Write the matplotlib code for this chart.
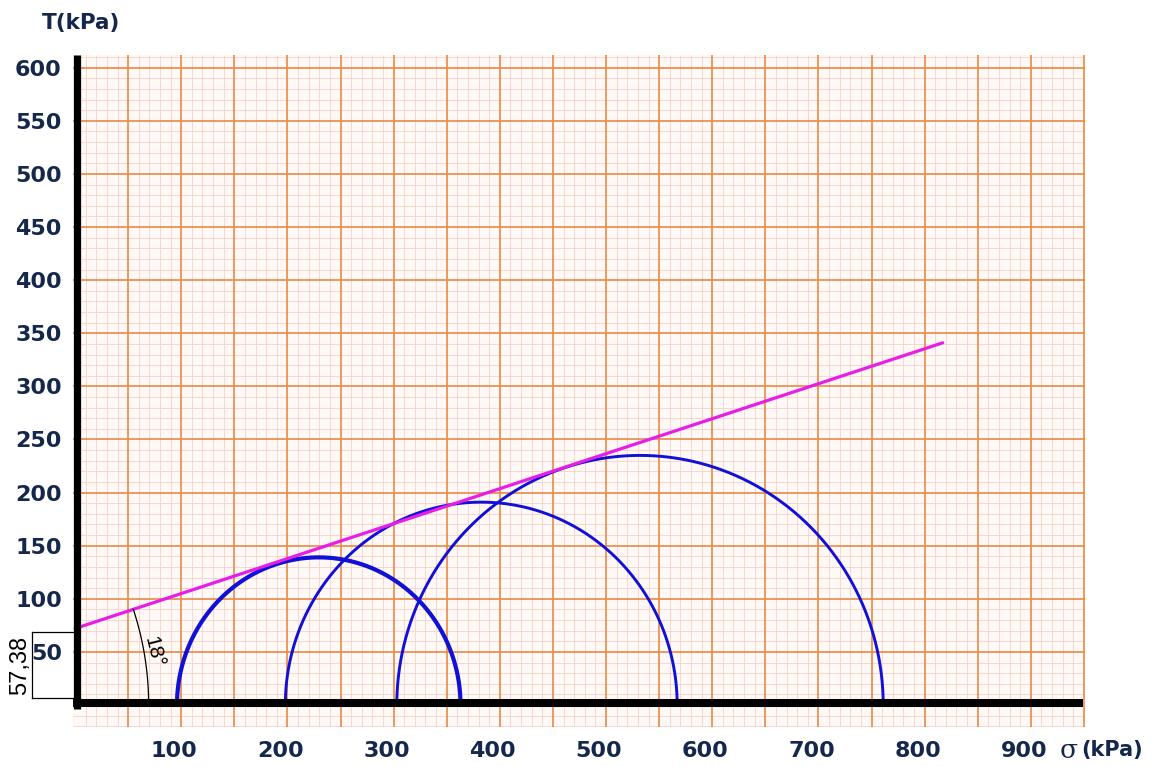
import numpy as np
import matplotlib
matplotlib.use("Agg")
import matplotlib.pyplot as plt
from matplotlib.transforms import ScaledTranslation

# ---- data ----
sigma3 = [96, 198, 303]          # kPa, left ends of Mohr circles
sigma1 = [363, 567, 761]         # kPa, right ends of Mohr circles
tau_top = [139, 191, 235]        # kPa, drawn apex heights of the circles
circle_lw = [3.0, 2.1, 2.1]
envelope_x = [0, 817]            # kPa
envelope_y = [72, 341]           # kPa
cohesion_label = "57,38"
angle_label = "18°"
x_ticks = [100, 200, 300, 400, 500, 600, 700, 800, 900]
y_ticks = [50, 100, 150, 200, 250, 300, 350, 400, 450, 500, 550, 600]

NAVY = "#15274b"
ORANGE = "#e98a45"
PINK = "#f6d2c6"
BLUE = "#1010d8"
MAGENTA = "#e61ee6"

W, H = 1159, 767
fig = plt.figure(figsize=(W / 100, H / 100), dpi=100)
fig.patch.set_facecolor("white")

xmin, xmax = -2, 951
ymin, ymax = -21, 612
left_px, right_px = 72.9, 1085.0
top_px, bot_px = 55.0, 727.3
ax = fig.add_axes([left_px / W, (H - bot_px) / H, (right_px - left_px) / W, (bot_px - top_px) / H])
ax.set_xlim(xmin, xmax)
ax.set_ylim(ymin, ymax)
ax.set_facecolor("#fef8f6")
for s in ax.spines.values():
    s.set_visible(False)

# graph paper grid
minor_x = [v for v in np.arange(0, 951, 10) if v % 50 != 0]
minor_y = [v for v in np.arange(-20, 612, 10) if v % 50 != 0]
ax.vlines(minor_x, ymin, ymax, color=PINK, lw=0.6, zorder=1)
ax.hlines(minor_y, xmin, xmax, color=PINK, lw=0.6, zorder=1)
ax.vlines(np.arange(50, 951, 50), ymin, ymax, color=ORANGE, lw=1.2, zorder=2)
ax.hlines(np.arange(50, 612, 50), xmin, xmax, color=ORANGE, lw=1.2, zorder=2)

# Mohr circles
t = np.linspace(0, np.pi, 400)
for s3, s1, top, lw in zip(sigma3, sigma1, tau_top, circle_lw):
    c = (s1 + s3) / 2
    r = (s1 - s3) / 2
    ax.plot(c + r * np.cos(t), top * np.sin(t), color=BLUE, lw=lw, zorder=4, solid_capstyle="butt")

# failure envelope
ax.plot(envelope_x, envelope_y, color=MAGENTA, lw=2.3, zorder=5, solid_capstyle="round")

# angle arc
slope = (envelope_y[1] - envelope_y[0]) / (envelope_x[1] - envelope_x[0])
x0 = -envelope_y[0] / slope
R = 288
a = np.linspace(0, np.arctan(slope), 60)
ax.plot(x0 + R * np.cos(a), R * np.sin(a), color="black", lw=0.9, zorder=5)
ax.text(74, 50, angle_label, rotation=-76, ha="center", va="center", fontsize=15,
        family="Liberation Sans", color="black", zorder=6)

# thick black axes
ax.plot([1.5, 1.5], [-4, ymax], color="black", lw=5.2, zorder=7, clip_on=False, solid_capstyle="butt")
ax.plot([-2, 949], [1.5, 1.5], color="black", lw=5.8, zorder=7, clip_on=False, solid_capstyle="butt")

# cohesion bracket
bx = -40.5
ax.plot([bx, 0], [69, 69], color="black", lw=0.9, clip_on=False, zorder=3)
ax.plot([bx, 0], [6.6, 6.6], color="black", lw=0.9, clip_on=False, zorder=3)
ax.plot([bx, bx], [6.6, 69], color="black", lw=0.9, clip_on=False, zorder=3)
fig.text(20 / W, 1 - 665 / H, cohesion_label, rotation=90, ha="center", va="center",
         fontsize=17, family="Liberation Sans", color="black")

# ticks
ax.set_xticks(x_ticks)
ax.set_xticklabels([str(v) for v in x_ticks])
ax.set_yticks(y_ticks)
ax.set_yticklabels([str(v) for v in y_ticks])
ax.tick_params(axis="both", length=0, labelsize=16, labelcolor=NAVY)
ax.tick_params(axis="x", pad=10)
ax.tick_params(axis="y", pad=8)
for lab in ax.get_xticklabels() + ax.get_yticklabels():
    lab.set_fontweight("bold")
    lab.set_family("DejaVu Sans")
off = ScaledTranslation(-7 / 100, 0, fig.dpi_scale_trans)
for lab in ax.get_xticklabels():
    lab.set_transform(lab.get_transform() + off)

# axis titles
fig.text(81.5 / W, 1 - 23 / H, "T(kPa)", ha="center", va="center", fontsize=15.5,
         fontweight="bold", color=NAVY, family="DejaVu Sans")
fig.text(1069 / W, 1 - 750 / H, "σ", ha="center", va="center", fontsize=19,
         color=NAVY, family="DejaVu Serif")
fig.text(1081 / W, 1 - 750 / H, "(kPa)", ha="left", va="center", fontsize=15,
         fontweight="bold", color=NAVY, family="DejaVu Sans")

fig.savefig("out.png", dpi=100, facecolor="white")
